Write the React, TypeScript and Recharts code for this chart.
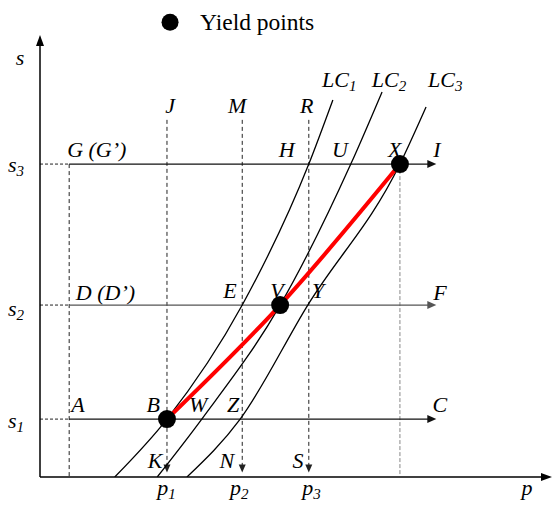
import {
  ComposedChart,
  Line,
  ReferenceDot,
  ReferenceLine,
  Scatter,
  XAxis,
  YAxis,
} from "recharts";

const FONT = '"Liberation Serif", "Times New Roman", serif';

// stress levels s1, s2, s3
const sLevels = [13.1, 38.9, 70.8];
// plastic-strain drops p1, p2, p3 and the strain under X
const pDrops = [24.8, 39.5, 52.5];
const pX = 70.3;
// left guide (A, D, G)
const pGuide = 5.7;
const pArrowEnd = 77.4;
const sDropTop = 80.8;

// loading curves
const lc1 = [
  { p: 14.6, s: 0 },
  { p: 24.8, s: 13.1 },
  { p: 39.5, s: 38.9 },
  { p: 52.5, s: 70.8 },
  { p: 57.2, s: 85.3 },
];
const lc2 = [
  { p: 22.9, s: 0 },
  { p: 31.6, s: 13.1 },
  { p: 46.9, s: 38.9 },
  { p: 60.7, s: 70.8 },
  { p: 66.8, s: 87.1 },
];
const lc3 = [
  { p: 28.7, s: 0 },
  { p: 39.1, s: 13.1 },
  { p: 52.3, s: 38.9 },
  { p: 70.3, s: 70.8 },
  { p: 75.4, s: 83.7 },
];

// yield points B, V, X
const yieldPoints = [
  { p: 24.8, s: 13.1 },
  { p: 46.9, s: 38.9 },
  { p: 70.3, s: 70.8 },
];

type Lbl = {
  text: string;
  sub?: string;
  p: number;
  s: number;
  anchor?: "start" | "middle";
  upright?: boolean;
  size?: number;
};

const labels: Lbl[] = [
  { text: "Yield points", p: 31.25, s: 101.1, anchor: "start", upright: true, size: 23.5 },
  { text: "s", p: -3.9, s: 93.2 },
  { text: "s", sub: "3", p: -6.25, s: 69.0, anchor: "start" },
  { text: "s", sub: "2", p: -6.25, s: 36.4, anchor: "start" },
  { text: "s", sub: "1", p: -6.25, s: 11.1, anchor: "start" },
  { text: "p", sub: "1", p: 22.9, s: -4.1, anchor: "start" },
  { text: "p", sub: "2", p: 37.1, s: -4.1, anchor: "start" },
  { text: "p", sub: "3", p: 51.2, s: -4.1, anchor: "start" },
  { text: "p", p: 95.1, s: -4.1 },
  { text: "LC", sub: "1", p: 55.1, s: 88.2, anchor: "start" },
  { text: "LC", sub: "2", p: 64.8, s: 88.2, anchor: "start" },
  { text: "LC", sub: "3", p: 75.8, s: 88.2, anchor: "start" },
  { text: "J", p: 25.4, s: 82.4 },
  { text: "M", p: 38.5, s: 82.4 },
  { text: "R", p: 52.1, s: 82.4 },
  { text: "G (G\u2019)", p: 5.3, s: 72.4, anchor: "start" },
  { text: "H", p: 48.2, s: 72.4 },
  { text: "U", p: 58.6, s: 72.4 },
  { text: "X", p: 69.3, s: 72.4 },
  { text: "I", p: 77.5, s: 72.4 },
  { text: "D (D\u2019)", p: 7.0, s: 40.0, anchor: "start" },
  { text: "E", p: 37.1, s: 40.5 },
  { text: "V", p: 46.3, s: 40.5 },
  { text: "Y", p: 54.3, s: 40.5 },
  { text: "F", p: 78.1, s: 40.0 },
  { text: "A", p: 6.1, s: 14.7, anchor: "start" },
  { text: "B", p: 22.1, s: 14.7 },
  { text: "W", p: 30.9, s: 14.7 },
  { text: "Z", p: 37.7, s: 14.7 },
  { text: "C", p: 78.1, s: 14.7 },
  { text: "K", p: 22.5, s: 2.0 },
  { text: "N", p: 36.5, s: 2.0 },
  { text: "S", p: 50.4, s: 2.0 },
];

// line with a filled arrow head at its end point
function arrowShape(len: number, half: number) {
  return (props: any) => {
    const { x1, y1, x2, y2, stroke, strokeWidth, strokeDasharray } = props;
    const dx = x2 - x1;
    const dy = y2 - y1;
    const l = Math.hypot(dx, dy) || 1;
    const ux = dx / l;
    const uy = dy / l;
    const bx = x2 - ux * len;
    const by = y2 - uy * len;
    const pts = `${x2},${y2} ${bx - uy * half},${by + ux * half} ${bx + uy * half},${by - ux * half}`;
    return (
      <g>
        <line
          x1={x1}
          y1={y1}
          x2={bx + ux * 1}
          y2={by + uy * 1}
          stroke={stroke}
          strokeWidth={strokeWidth}
          strokeDasharray={strokeDasharray}
        />
        <polygon points={pts} fill={stroke} />
      </g>
    );
  };
}

function labelShape(l: Lbl) {
  return (props: any) => (
    <text
      x={props.cx}
      y={props.cy}
      textAnchor={l.anchor ?? "middle"}
      fontFamily={FONT}
      fontStyle={l.upright ? "normal" : "italic"}
      fontSize={l.size ?? 22}
      fill="#000"
    >
      {l.text}
      {l.sub && (
        <tspan fontSize={15} dy={4}>
          {l.sub}
        </tspan>
      )}
    </text>
  );
}

const yieldDot = (props: any) => (
  <circle cx={props.cx} cy={props.cy} r={9} fill="#000" />
);

export default function App() {
  return (
    <div style={{ position: "absolute", left: 0, top: 0, background: "#fff" }}>
      <ComposedChart
        width={555}
        height={506}
        margin={{ top: 35, right: 3, bottom: 29, left: 40 }}
      >
        <XAxis type="number" dataKey="p" domain={[0, 100]} hide allowDataOverflow />
        <YAxis type="number" dataKey="s" domain={[0, 100]} hide allowDataOverflow />

        {/* short dashed ticks from the s axis to the A-D-G guide */}
        {sLevels.map((s, i) => (
          <ReferenceLine
            key={`lt${i}`}
            segment={[
              { x: 0, y: s },
              { x: pGuide, y: s },
            ]}
            stroke="#222"
            strokeDasharray="3 2"
            ifOverflow="visible"
          />
        ))}
        <ReferenceLine
          segment={[
            { x: pGuide, y: sLevels[2] },
            { x: pGuide, y: 0 },
          ]}
          stroke="#222"
          strokeDasharray="4 3"
          ifOverflow="visible"
        />
        <ReferenceLine
          segment={[
            { x: pX, y: sLevels[2] },
            { x: pX, y: 0.5 },
          ]}
          stroke="#888"
          strokeDasharray="4 2"
          ifOverflow="visible"
        />
        {pDrops.map((p, i) => (
          <ReferenceLine
            key={`pd${i}`}
            segment={[
              { x: p, y: sDropTop },
              { x: p, y: 1.0 },
            ]}
            stroke="#222"
            strokeDasharray="4 3"
            shape={arrowShape(8, 3.5)}
            ifOverflow="visible"
          />
        ))}
        {sLevels.map((s, i) => (
          <ReferenceLine
            key={`hz${i}`}
            segment={[
              { x: pGuide, y: s },
              { x: pArrowEnd, y: s },
            ]}
            stroke={i === 1 ? "#555" : "#111"}
            strokeWidth={1.2}
            shape={arrowShape(9, 4)}
            ifOverflow="visible"
          />
        ))}

        {/* axes */}
        <ReferenceLine
          segment={[
            { x: 0, y: 0 },
            { x: 100, y: 0 },
          ]}
          stroke="#000"
          strokeWidth={1.5}
          shape={arrowShape(11, 4)}
          ifOverflow="visible"
        />
        <ReferenceLine
          segment={[
            { x: 0, y: 0 },
            { x: 0, y: 100 },
          ]}
          stroke="#000"
          strokeWidth={1.5}
          shape={arrowShape(11, 4)}
          ifOverflow="visible"
        />

        <Line data={lc1} dataKey="s" type="monotone" stroke="#000" strokeWidth={1.3} dot={false} isAnimationActive={false} />
        <Line data={lc2} dataKey="s" type="monotone" stroke="#000" strokeWidth={1.3} dot={false} isAnimationActive={false} />
        <Line data={lc3} dataKey="s" type="monotone" stroke="#000" strokeWidth={1.3} dot={false} isAnimationActive={false} />
        <Line data={yieldPoints} dataKey="s" type="monotone" stroke="#ff0000" strokeWidth={4} dot={false} isAnimationActive={false} />
        <Scatter data={yieldPoints} shape={yieldDot} isAnimationActive={false} />

        <ReferenceDot x={25.4} y={102.9} r={8.5} fill="#000" stroke="none" ifOverflow="visible" />
        {labels.map((l, i) => (
          <ReferenceDot
            key={`lb${i}`}
            x={l.p}
            y={l.s}
            r={0}
            ifOverflow="visible"
            shape={labelShape(l)}
          />
        ))}
      </ComposedChart>
    </div>
  );
}
